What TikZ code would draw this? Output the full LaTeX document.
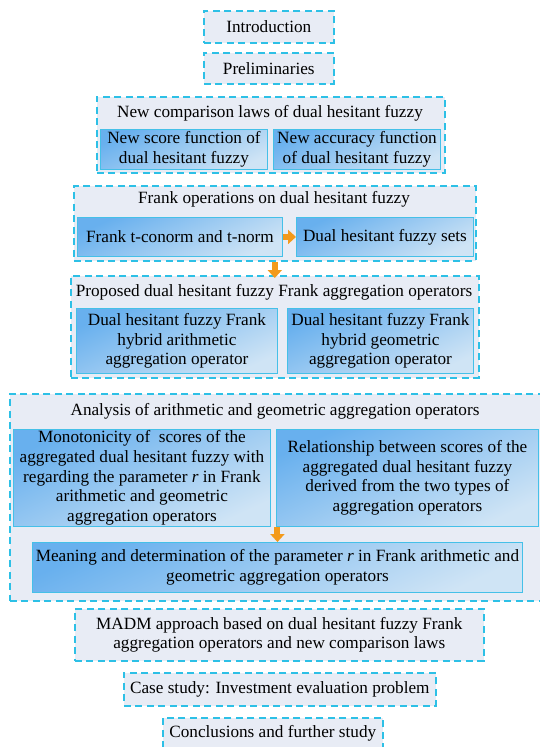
\documentclass[tikz,border=0pt]{standalone}
\usepackage{fontspec}
\setmainfont{Liberation Serif}
\usepackage{tikz}
\usetikzlibrary{calc, arrows.meta}
\definecolor{dashcyan}{HTML}{2DC0E6}
\definecolor{groupbg}{HTML}{E8ECF5}
\definecolor{fieldtop}{HTML}{68B0EE}
\definecolor{fieldbot}{HTML}{CFE4F5}
\definecolor{fieldline}{HTML}{45C0E8}
\definecolor{arroworange}{HTML}{F39A1B}
\tikzstyle{group} = [rectangle, draw=dashcyan, fill=groupbg, line width=1.6pt, dash pattern=on 7pt off 4.5pt, anchor=north west, align=center, inner sep=0pt]
\tikzstyle{field} = [rectangle, draw=fieldline, line width=0.9pt, top color=fieldtop, bottom color=fieldbot, shading angle=25, anchor=north west, align=center, inner sep=1pt]
\tikzstyle{flow} = [draw=arroworange, line width=6pt, -{Triangle[width=14pt,length=8pt]}]

\begin{document}
\begin{tikzpicture}[x=1pt, y=-1pt, font=\fontsize{17.2}{19.6}\selectfont]

        \useasboundingbox[fill=white] (0,0) rectangle (539,747);

        \node (intro) [group, minimum width=130pt, minimum height=32pt] at (203,10) {Introduction};
        \node (prelim) [group, minimum width=130pt, minimum height=31pt] at (203,52) {Preliminaries};

        % comparison laws
        \node (comp) [group, minimum width=348pt, minimum height=76pt] at (96,96) {};
        \node (comptitle) at (270,113) {New comparison laws of dual hesitant fuzzy};
        \node (score) [field, minimum width=167pt, minimum height=40pt] at (100,129) {New score function of\\dual hesitant fuzzy};
        \node (accuracy) [field, minimum width=167pt, minimum height=40pt] at (273,129) {New accuracy function\\of dual hesitant fuzzy};

        % Frank operations
        \node (frank) [group, minimum width=402pt, minimum height=75pt] at (73,185) {};
        \node (franktitle) at (274,199) {Frank operations on dual hesitant fuzzy};
        \node (tconorm) [field, minimum width=205pt, minimum height=39pt] at (77,217) {Frank t-conorm and t-norm};
        \node (dhfs) [field, minimum width=177pt, minimum height=39pt] at (296,217) {Dual hesitant fuzzy sets};

        % proposed operators
        \node (proposed) [group, minimum width=408pt, minimum height=102pt] at (70,275) {};
        \node (proptitle) at (274,292) {Proposed dual hesitant fuzzy Frank aggregation operators};
        \node (hybarith) [field, minimum width=201pt, minimum height=65pt] at (76,308) {Dual hesitant fuzzy Frank\\hybrid arithmetic\\aggregation operator};
        \node (hybgeo) [field, minimum width=186pt, minimum height=65pt] at (287,308) {Dual hesitant fuzzy Frank\\hybrid geometric\\aggregation operator};

        % analysis
        \node (analysis) [group, minimum width=532pt, minimum height=207pt] at (9,393) {};
        \node (antitle) at (275,411) {Analysis of arithmetic and geometric aggregation operators};
        \node (mono) [field, minimum width=257pt, minimum height=97pt] at (13,429) {Monotonicity of \ scores of the\\aggregated dual hesitant fuzzy with\\regarding the parameter \textit{r} in Frank\\arithmetic and geometric\\aggregation operators};
        \node (relation) [field, minimum width=262pt, minimum height=97pt] at (276,429) {Relationship between scores of the\\aggregated dual hesitant fuzzy\\derived from the two types of\\aggregation operators};
        \node (meaning) [field, minimum width=490pt, minimum height=50pt] at (32,542) {Meaning and determination of the parameter \textit{r} in Frank arithmetic and\\geometric aggregation operators};

        \node (madm) [group, minimum width=409pt, minimum height=52pt] at (74,608) {MADM approach based on dual hesitant fuzzy Frank\\aggregation operators and new comparison laws};
        \node (case) [group, minimum width=312pt, minimum height=33pt] at (123,672) {Case study: Investment evaluation problem};
        \node (concl) [group, minimum width=220pt, minimum height=31pt] at (162,717) {Conclusions and further study};

        \draw[flow] (tconorm.east) -- (dhfs.west);
        \draw[flow] (frank.south) -- ($(proposed.north)+(0,3)$);
        \draw[flow] (meaning.north |- mono.south) -- (meaning.north);

    \end{tikzpicture}
\end{document}
